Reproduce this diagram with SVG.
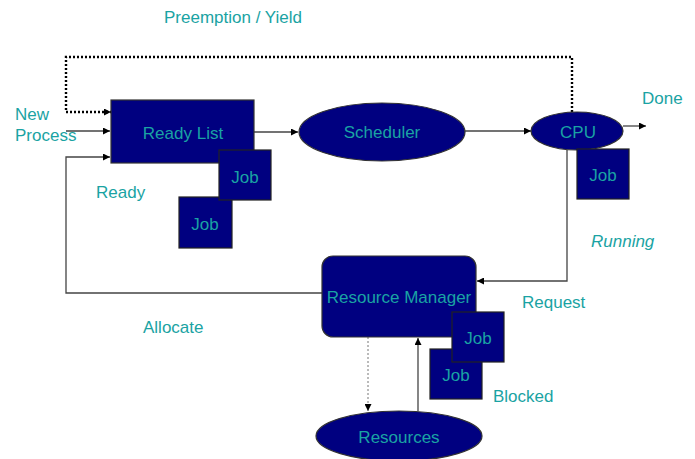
<svg xmlns="http://www.w3.org/2000/svg" width="695" height="459" viewBox="0 0 695 459">
  <style>
    .lbl { font-family: "Liberation Sans", Arial, sans-serif; font-size: 17px; fill: #1aa3a3; }
    .mid { text-anchor: middle; }
    .box { fill: #000080; stroke: #333333; stroke-width: 1.2; }
    .job { fill: #000080; stroke: #222222; stroke-width: 1.2; }
    .ln { fill: none; stroke: #444444; stroke-width: 1.3; }
  </style>
  <defs>
    <marker id="arr" viewBox="0 0 10 10" refX="10" refY="5" markerWidth="8" markerHeight="7" markerUnits="userSpaceOnUse" orient="auto">
      <path d="M0,0 L10,5 L0,10 z" fill="#000000"/>
    </marker>
  </defs>
  <rect width="695" height="459" fill="#ffffff"/>

  <!-- connectors -->
  <g id="connectors">
    <path d="M572,112 V57 H66 V112 H111" fill="none" stroke="#000000" stroke-width="2.4" stroke-dasharray="2,2" marker-end="url(#arr)"/>
    <path class="ln" d="M66,131 H110" marker-end="url(#arr)"/>
    <path class="ln" d="M322,293 H66 V157 H110" marker-end="url(#arr)"/>
    <path class="ln" d="M254,132 H298" marker-end="url(#arr)"/>
    <path class="ln" d="M465,131 H531" marker-end="url(#arr)"/>
    <path class="ln" d="M623,126 H646" marker-end="url(#arr)"/>
    <path class="ln" d="M567,150 V281 H477" marker-end="url(#arr)"/>
    <path d="M368,337 V411" fill="none" stroke="#777777" stroke-width="1" stroke-dasharray="2,2" marker-end="url(#arr)"/>
    <path class="ln" d="M418,411 V338" marker-end="url(#arr)"/>
  </g>

  <!-- free labels -->
  <text class="lbl" x="164" y="23">Preemption / Yield</text>
  <text class="lbl" x="15" y="120">New</text>
  <text class="lbl" x="15" y="141">Process</text>
  <text class="lbl" x="96" y="198">Ready</text>
  <text class="lbl" x="642" y="104">Done</text>
  <text class="lbl" x="591" y="247" font-style="italic">Running</text>
  <text class="lbl" x="522" y="308">Request</text>
  <text class="lbl" x="143" y="333">Allocate</text>
  <text class="lbl" x="493" y="402">Blocked</text>

  <g id="ready-list">
    <rect class="box" x="111" y="100" width="143" height="63"/>
    <text class="lbl mid" x="183" y="139">Ready List</text>
  </g>
  <g id="ready-job-2">
    <rect class="job" x="179" y="197" width="53" height="51"/>
    <text class="lbl mid" x="205" y="230">Job</text>
  </g>
  <g id="ready-job-1">
    <rect class="job" x="219" y="150" width="52" height="50"/>
    <text class="lbl mid" x="245" y="183">Job</text>
  </g>

  <g id="scheduler">
    <ellipse class="box" cx="382" cy="132" rx="83" ry="29"/>
    <text class="lbl mid" x="382" y="138">Scheduler</text>
  </g>

  <g id="cpu">
    <ellipse class="box" cx="577" cy="131" rx="46" ry="19"/>
    <text class="lbl mid" x="578" y="138">CPU</text>
  </g>
  <g id="cpu-job">
    <rect class="job" x="577" y="149" width="52" height="50"/>
    <text class="lbl mid" x="603" y="181">Job</text>
  </g>

  <g id="resource-manager">
    <rect class="box" x="322" y="256" width="154" height="81" rx="11"/>
    <text class="lbl mid" x="399" y="303">Resource Manager</text>
  </g>
  <g id="blocked-job-2">
    <rect class="job" x="430" y="349" width="52" height="50"/>
    <text class="lbl mid" x="456" y="381">Job</text>
  </g>
  <g id="blocked-job-1">
    <rect class="job" x="452" y="312" width="52" height="50"/>
    <text class="lbl mid" x="478" y="344">Job</text>
  </g>

  <g id="resources">
    <ellipse class="box" cx="399" cy="436" rx="83" ry="25"/>
    <text class="lbl mid" x="399" y="443">Resources</text>
  </g>
</svg>
